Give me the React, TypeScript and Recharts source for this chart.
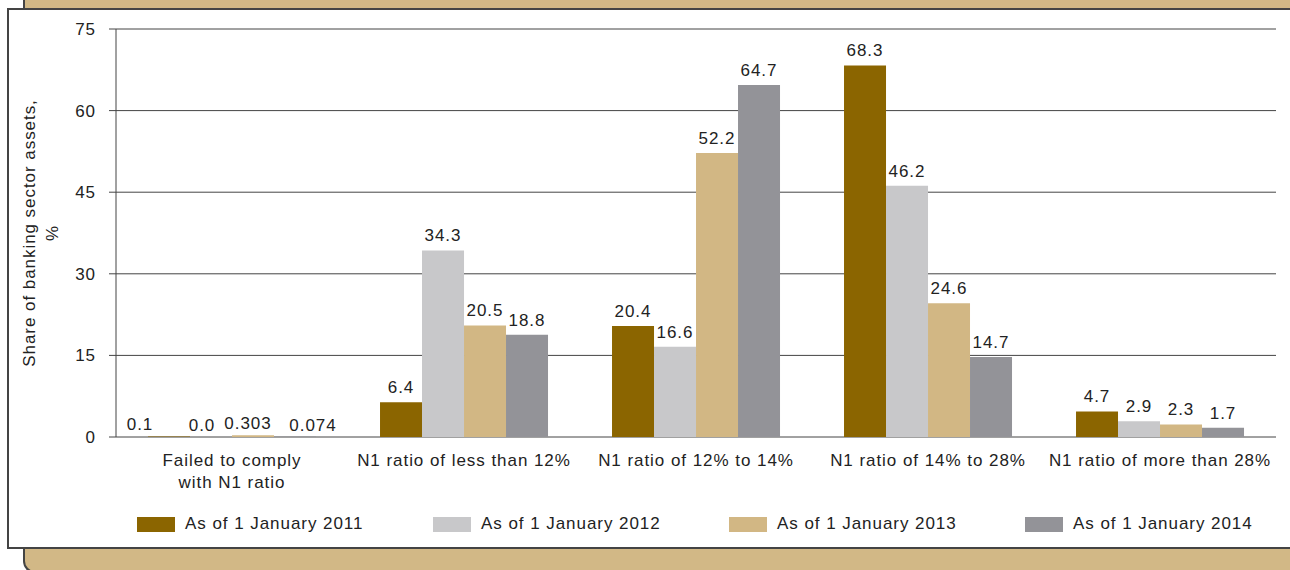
import { Bar, BarChart, CartesianGrid, LabelList, Legend, XAxis, YAxis } from 'recharts';

const categories = [
  'Failed to comply\nwith N1 ratio',
  'N1 ratio of less than 12%',
  'N1 ratio of 12% to 14%',
  'N1 ratio of 14% to 28%',
  'N1 ratio of more than 28%',
];
const jan2011 = [0.1, 6.4, 20.4, 68.3, 4.7];
const jan2012 = [0.0, 34.3, 16.6, 46.2, 2.9];
const jan2013 = [0.303, 20.5, 52.2, 24.6, 2.3];
const jan2014 = [0.074, 18.8, 64.7, 14.7, 1.7];
const yTicks = [0, 15, 30, 45, 60, 75];
const separators = [0, 1, 2, 3, 4, 5];

const data = categories.map((name, i) => ({
  name,
  y2011: jan2011[i],
  y2012: jan2012[i],
  y2013: jan2013[i],
  y2014: jan2014[i],
}));

const TEXT = '#222';
const LINE = '#444';
const TAN = '#d2b886';

const fmt = (v: any) => (Number(v) === 0 ? '0.0' : String(v));

// labels of the near-zero group are nudged apart so they don't collide
const smallShift: Record<string, number> = { y2011: -29, y2012: -9, y2013: -5, y2014: 18 };

const makeLabel = (key: string) => (props: any) => {
  const { x, y, width, value, index } = props;
  const dx = index === 0 ? smallShift[key] : 0;
  return (
    <text x={Number(x) + Number(width) / 2 + dx} y={Number(y) - (index === 0 ? 6 : 9)} textAnchor="middle" fill={TEXT} fontSize={17}>
      {fmt(value)}
    </text>
  );
};

// keep zero-height bars in the label list
const tinyForZero = (v: any) => (Number(v) === 0 ? 0.01 : 0);

const CategoryTick = ({ x, y, payload }: any) => {
  const lines = String(payload.value).split('\n');
  return (
    <text x={x} y={y} textAnchor="middle" fill={TEXT} fontSize={17}>
      {lines.map((l, i) => (
        <tspan key={i} x={x} dy={i === 0 ? 29 : 22}>
          {l}
        </tspan>
      ))}
    </text>
  );
};

const AxisTitle = () => {
  const cx = 35;
  const cy = 233;
  return (
    <text x={cx} y={cy} transform={`rotate(-90 ${cx} ${cy})`} textAnchor="middle" fill={TEXT} fontSize={17}>
      <tspan x={cx} dy={0}>Share of banking sector assets,</tspan>
      <tspan x={cx} dy={23}>%</tspan>
    </text>
  );
};

const LegendContent = ({ payload }: any) => (
  <div style={{ display: 'flex', paddingLeft: 137 }}>
    {(payload || []).map((p: any) => (
      <div key={p.value} style={{ width: 296, flexShrink: 0, display: 'flex', alignItems: 'center' }}>
        <span style={{ width: 38, height: 15, background: p.color, display: 'inline-block' }} />
        <span style={{ marginLeft: 10, fontSize: 17, color: TEXT }}>{p.value}</span>
      </div>
    ))}
  </div>
);

export default function App() {
  return (
    <div
      style={{
        position: 'absolute',
        left: 0,
        top: 0,
        width: 1290,
        height: 570,
        overflow: 'hidden',
        background: '#fff',
        fontFamily: '"Liberation Sans", Arial, sans-serif',
        letterSpacing: 0.95,
      }}
    >
      <div style={{ position: 'absolute', left: 23, top: -2, width: 1280, height: 10, background: TAN, borderLeft: `2px solid ${LINE}` }} />
      <div
        style={{
          position: 'absolute',
          left: 23,
          top: 533,
          width: 1280,
          height: 40,
          background: TAN,
          borderLeft: `2px solid ${LINE}`,
          borderBottom: `2px solid ${LINE}`,
          borderBottomLeftRadius: 12,
          boxSizing: 'border-box',
        }}
      />
      <div
        style={{
          position: 'absolute',
          left: 7,
          top: 8,
          width: 1300,
          height: 537,
          background: '#fff',
          border: `2px solid ${LINE}`,
        }}
      />
      <div style={{ position: 'absolute', left: 0, top: 0 }}>
        <BarChart
          width={1290}
          height={570}
          data={data}
          margin={{ top: 29, right: 14, left: 56, bottom: 93 }}
          barCategoryGap="13.8%"
          barGap={0}
        >
          <CartesianGrid vertical={false} stroke={LINE} strokeWidth={1} />
          <XAxis
            xAxisId="sep"
            type="number"
            domain={[0, 5]}
            ticks={separators}
            tick={false}
            tickSize={10}
            height={0}
            axisLine={{ stroke: LINE }}
            tickLine={{ stroke: LINE }}
          />
          <XAxis
            dataKey="name"
            height={40}
            axisLine={false}
            tickLine={false}
            tickSize={0}
            tickMargin={0}
            interval={0}
            tick={<CategoryTick />}
          />
          <YAxis
            domain={[0, 75]}
            ticks={yTicks}
            width={60}
            tickSize={7}
            tickMargin={13}
            axisLine={{ stroke: LINE }}
            tickLine={{ stroke: LINE }}
            tick={{ fill: TEXT, fontSize: 17 }}
            label={<AxisTitle />}
          />
          <YAxis
            yAxisId="right"
            orientation="right"
            domain={[0, 75]}
            ticks={yTicks}
            width={0}
            tick={false}
            tickSize={2}
            axisLine={{ stroke: LINE }}
            tickLine={{ stroke: LINE }}
          />
          <Legend
            layout="horizontal"
            verticalAlign="middle"
            align="center"
            wrapperStyle={{ top: 514, left: 0, width: 1290 }}
            content={<LegendContent />}
          />
          <Bar dataKey="y2011" name="As of 1 January 2011" fill="#8b6500" minPointSize={tinyForZero} isAnimationActive={false}>
            <LabelList dataKey="y2011" content={makeLabel('y2011')} />
          </Bar>
          <Bar dataKey="y2012" name="As of 1 January 2012" fill="#c8c8ca" minPointSize={tinyForZero} isAnimationActive={false}>
            <LabelList dataKey="y2012" content={makeLabel('y2012')} />
          </Bar>
          <Bar dataKey="y2013" name="As of 1 January 2013" fill="#d2b784" minPointSize={tinyForZero} isAnimationActive={false}>
            <LabelList dataKey="y2013" content={makeLabel('y2013')} />
          </Bar>
          <Bar dataKey="y2014" name="As of 1 January 2014" fill="#939398" minPointSize={tinyForZero} isAnimationActive={false}>
            <LabelList dataKey="y2014" content={makeLabel('y2014')} />
          </Bar>
        </BarChart>
      </div>
    </div>
  );
}
